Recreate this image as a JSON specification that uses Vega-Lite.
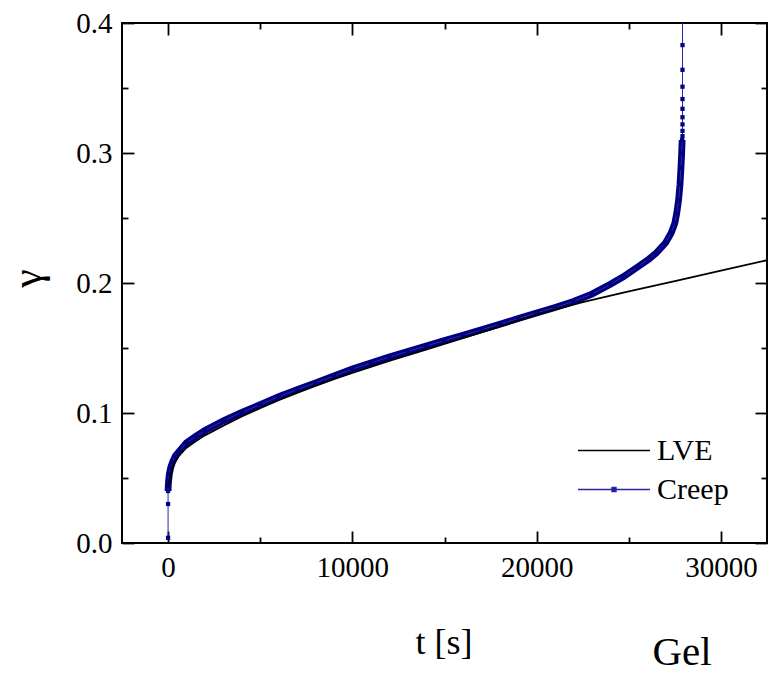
{
  "$schema": "https://vega.github.io/schema/vega-lite/v6.json",
  "width": 645,
  "height": 520,
  "autosize": "none",
  "padding": {"left": 122, "top": 23, "right": 2, "bottom": 130},
  "config": {
    "view": {"stroke": "#000", "strokeWidth": 2},
    "font": "Liberation Serif",
    "axis": {
      "labelFont": "Liberation Serif",
      "titleFont": "Liberation Serif",
      "labelColor": "#000",
      "titleColor": "#000",
      "tickColor": "#000",
      "tickWidth": 1.8,
      "labelFontSize": 29,
      "titleFontWeight": "normal",
      "grid": false,
      "domain": false,
      "labelFlush": false,
      "labelOverlap": false
    }
  },
  "datasets": {
    "curves": [
      {"series": "Creep", "t": 0, "gamma": 0.004},
      {"series": "Creep", "t": 0, "gamma": 0.030},
      {"series": "Creep", "t": 0, "gamma": 0.040},
      {"series": "Creep", "t": 10, "gamma": 0.044},
      {"series": "Creep", "t": 30, "gamma": 0.048},
      {"series": "Creep", "t": 70, "gamma": 0.053},
      {"series": "Creep", "t": 140, "gamma": 0.058},
      {"series": "Creep", "t": 250, "gamma": 0.0625},
      {"series": "Creep", "t": 400, "gamma": 0.067},
      {"series": "Creep", "t": 600, "gamma": 0.0705},
      {"series": "Creep", "t": 1000, "gamma": 0.077},
      {"series": "Creep", "t": 1500, "gamma": 0.082},
      {"series": "Creep", "t": 2000, "gamma": 0.0865},
      {"series": "Creep", "t": 3000, "gamma": 0.094},
      {"series": "Creep", "t": 4000, "gamma": 0.1005},
      {"series": "Creep", "t": 5000, "gamma": 0.1065},
      {"series": "Creep", "t": 6000, "gamma": 0.1125},
      {"series": "Creep", "t": 7000, "gamma": 0.118},
      {"series": "Creep", "t": 8000, "gamma": 0.1232},
      {"series": "Creep", "t": 9000, "gamma": 0.1285},
      {"series": "Creep", "t": 10000, "gamma": 0.1338},
      {"series": "Creep", "t": 11000, "gamma": 0.1385},
      {"series": "Creep", "t": 12000, "gamma": 0.143},
      {"series": "Creep", "t": 13000, "gamma": 0.1473},
      {"series": "Creep", "t": 14000, "gamma": 0.1515},
      {"series": "Creep", "t": 15000, "gamma": 0.1557},
      {"series": "Creep", "t": 16000, "gamma": 0.1598},
      {"series": "Creep", "t": 17000, "gamma": 0.164},
      {"series": "Creep", "t": 18000, "gamma": 0.1683},
      {"series": "Creep", "t": 19000, "gamma": 0.1726},
      {"series": "Creep", "t": 20000, "gamma": 0.177},
      {"series": "Creep", "t": 21000, "gamma": 0.1812},
      {"series": "Creep", "t": 22000, "gamma": 0.1858},
      {"series": "Creep", "t": 23000, "gamma": 0.1915},
      {"series": "Creep", "t": 24000, "gamma": 0.199},
      {"series": "Creep", "t": 24700, "gamma": 0.2048},
      {"series": "Creep", "t": 25500, "gamma": 0.2125},
      {"series": "Creep", "t": 26100, "gamma": 0.2185},
      {"series": "Creep", "t": 26500, "gamma": 0.2232},
      {"series": "Creep", "t": 27000, "gamma": 0.231},
      {"series": "Creep", "t": 27300, "gamma": 0.2385},
      {"series": "Creep", "t": 27500, "gamma": 0.246},
      {"series": "Creep", "t": 27600, "gamma": 0.2535},
      {"series": "Creep", "t": 27700, "gamma": 0.2635},
      {"series": "Creep", "t": 27780, "gamma": 0.276},
      {"series": "Creep", "t": 27830, "gamma": 0.2885},
      {"series": "Creep", "t": 27870, "gamma": 0.300},
      {"series": "Creep", "t": 27895, "gamma": 0.310},
      {"series": "Creep", "t": 27915, "gamma": 0.313},
      {"series": "Creep", "t": 27915, "gamma": 0.317},
      {"series": "Creep", "t": 27915, "gamma": 0.322},
      {"series": "Creep", "t": 27915, "gamma": 0.3275},
      {"series": "Creep", "t": 27915, "gamma": 0.334},
      {"series": "Creep", "t": 27915, "gamma": 0.3415},
      {"series": "Creep", "t": 27915, "gamma": 0.351},
      {"series": "Creep", "t": 27915, "gamma": 0.364},
      {"series": "Creep", "t": 27915, "gamma": 0.383},
      {"series": "Creep", "t": 27915, "gamma": 0.415},
      {"series": "LVE", "t": 0, "gamma": 0.043},
      {"series": "LVE", "t": 100, "gamma": 0.050},
      {"series": "LVE", "t": 300, "gamma": 0.0603},
      {"series": "LVE", "t": 600, "gamma": 0.0673},
      {"series": "LVE", "t": 1000, "gamma": 0.0733},
      {"series": "LVE", "t": 1500, "gamma": 0.0783},
      {"series": "LVE", "t": 2000, "gamma": 0.0828},
      {"series": "LVE", "t": 3000, "gamma": 0.0903},
      {"series": "LVE", "t": 4000, "gamma": 0.0973},
      {"series": "LVE", "t": 5000, "gamma": 0.1038},
      {"series": "LVE", "t": 6000, "gamma": 0.1098},
      {"series": "LVE", "t": 7000, "gamma": 0.1155},
      {"series": "LVE", "t": 8000, "gamma": 0.1208},
      {"series": "LVE", "t": 9000, "gamma": 0.126},
      {"series": "LVE", "t": 10000, "gamma": 0.1308},
      {"series": "LVE", "t": 12000, "gamma": 0.1401},
      {"series": "LVE", "t": 14000, "gamma": 0.1487},
      {"series": "LVE", "t": 16000, "gamma": 0.1575},
      {"series": "LVE", "t": 18000, "gamma": 0.1664},
      {"series": "LVE", "t": 20000, "gamma": 0.1757},
      {"series": "LVE", "t": 22500, "gamma": 0.1853},
      {"series": "LVE", "t": 25000, "gamma": 0.1935},
      {"series": "LVE", "t": 27500, "gamma": 0.2015},
      {"series": "LVE", "t": 30000, "gamma": 0.2095},
      {"series": "LVE", "t": 32500, "gamma": 0.2175},
      {"series": "LVE", "t": 33500, "gamma": 0.2205}
    ]
  },
  "data": {"name": "curves"},
  "layer": [
    {
      "transform": [{"filter": "datum.series === 'Creep' && datum.gamma >= 0.039 && datum.gamma <= 0.311"}],
      "mark": {"type": "line", "color": "#000080", "strokeWidth": 6.8, "clip": true},
      "encoding": {
        "x": {
          "field": "t", "type": "quantitative",
          "scale": {"domain": [-2500, 32500], "nice": false, "zero": false},
          "axis": {
            "orient": "bottom", "values": [5000, 15000, 25000], "labels": false, "tickSize": -6,
            "title": "Gel", "titleX": 559.5, "titleY": 121, "titleBaseline": "alphabetic",
            "titleAlign": "center", "titleAngle": 0, "titleFontSize": 41
          }
        },
        "y": {
          "field": "gamma", "type": "quantitative",
          "scale": {"domain": [0, 0.4], "nice": false},
          "axis": {"orient": "left", "values": [0.05, 0.15, 0.25, 0.35], "labels": false, "tickSize": -6, "title": null}
        },
        "order": {"field": "gamma", "type": "quantitative"}
      }
    },
    {
      "transform": [{"filter": "datum.series === 'Creep'"}],
      "mark": {"type": "line", "strokeWidth": 1, "clip": true},
      "encoding": {
        "x": {
          "field": "t", "type": "quantitative",
          "scale": {"domain": [-2500, 32500], "nice": false, "zero": false},
          "axis": {"orient": "top", "values": [0, 10000, 20000, 30000], "labels": false, "tickSize": -12, "title": null}
        },
        "y": {
          "field": "gamma", "type": "quantitative",
          "scale": {"domain": [0, 0.4], "nice": false},
          "axis": {"orient": "right", "values": [0, 0.1, 0.2, 0.3, 0.4], "labels": false, "tickSize": -12, "title": null}
        },
        "color": {
          "field": "series", "type": "nominal",
          "scale": {"domain": ["LVE", "Creep"], "range": ["#000000", "#2828a0"]},
          "legend": {
            "title": null, "orient": "none", "legendX": 455, "legendY": 408,
            "symbolSize": 5184, "symbolStrokeWidth": 1.5, "clipHeight": 39, "rowPadding": 0, "padding": 0,
            "labelOffset": 6, "labelFontSize": 30, "labelFont": "Liberation Serif", "labelColor": "#000", "labelLimit": 200,
            "encode": {
              "symbols": {
                "update": {
                  "shape": {"signal": "datum.value === 'Creep' ? 'M-1,0H1M-0.055,-0.055H0.055V0.055H-0.055Z' : 'M-1,0H1'"},
                  "fill": {"signal": "datum.value === 'Creep' ? '#000080' : 'transparent'"}
                }
              }
            }
          }
        },
        "order": {"field": "gamma", "type": "quantitative"}
      }
    },
    {
      "transform": [{"filter": "datum.series === 'Creep'"}],
      "mark": {"type": "point", "shape": "square", "filled": true, "size": 18, "color": "#000080", "opacity": 1, "clip": true},
      "encoding": {
        "x": {
          "field": "t", "type": "quantitative",
          "scale": {"domain": [-2500, 32500], "nice": false, "zero": false},
          "axis": {"orient": "top", "values": [5000, 15000, 25000], "labels": false, "tickSize": -6, "title": null}
        },
        "y": {
          "field": "gamma", "type": "quantitative",
          "scale": {"domain": [0, 0.4], "nice": false},
          "axis": {"orient": "right", "values": [0.05, 0.15, 0.25, 0.35], "labels": false, "tickSize": -6, "title": null}
        }
      }
    },
    {
      "transform": [{"filter": "datum.series === 'LVE'"}],
      "mark": {"type": "line", "strokeWidth": 1.8, "clip": true},
      "encoding": {
        "x": {
          "field": "t", "type": "quantitative",
          "scale": {"domain": [-2500, 32500], "nice": false, "zero": false},
          "axis": {
            "orient": "bottom", "values": [0, 10000, 20000, 30000], "format": "d", "tickSize": -12, "labelPadding": 22,
            "title": "t [s]", "titleX": 321.5, "titleY": 110, "titleBaseline": "alphabetic",
            "titleAlign": "center", "titleAngle": 0, "titleFontSize": 36
          }
        },
        "y": {
          "field": "gamma", "type": "quantitative",
          "scale": {"domain": [0, 0.4], "nice": false},
          "axis": {
            "orient": "left", "values": [0, 0.1, 0.2, 0.3, 0.4], "format": ".1f", "tickSize": -12, "labelPadding": 22,
            "title": "γ", "titleX": -82, "titleY": 255, "titleBaseline": "alphabetic",
            "titleAlign": "center", "titleAngle": 270, "titleFontSize": 42
          }
        },
        "color": {
          "field": "series", "type": "nominal",
          "scale": {"domain": ["LVE", "Creep"], "range": ["#000000", "#2828a0"]},
          "legend": {
            "title": null, "orient": "none", "legendX": 455, "legendY": 408,
            "symbolSize": 5184, "symbolStrokeWidth": 1.5, "clipHeight": 39, "rowPadding": 0, "padding": 0,
            "labelOffset": 6, "labelFontSize": 30, "labelFont": "Liberation Serif", "labelColor": "#000", "labelLimit": 200,
            "encode": {
              "symbols": {
                "update": {
                  "shape": {"signal": "datum.value === 'Creep' ? 'M-1,0H1M-0.055,-0.055H0.055V0.055H-0.055Z' : 'M-1,0H1'"},
                  "fill": {"signal": "datum.value === 'Creep' ? '#000080' : 'transparent'"}
                }
              }
            }
          }
        },
        "order": {"field": "gamma", "type": "quantitative"}
      }
    }
  ],
  "resolve": {"axis": {"x": "independent", "y": "independent"}}
}
